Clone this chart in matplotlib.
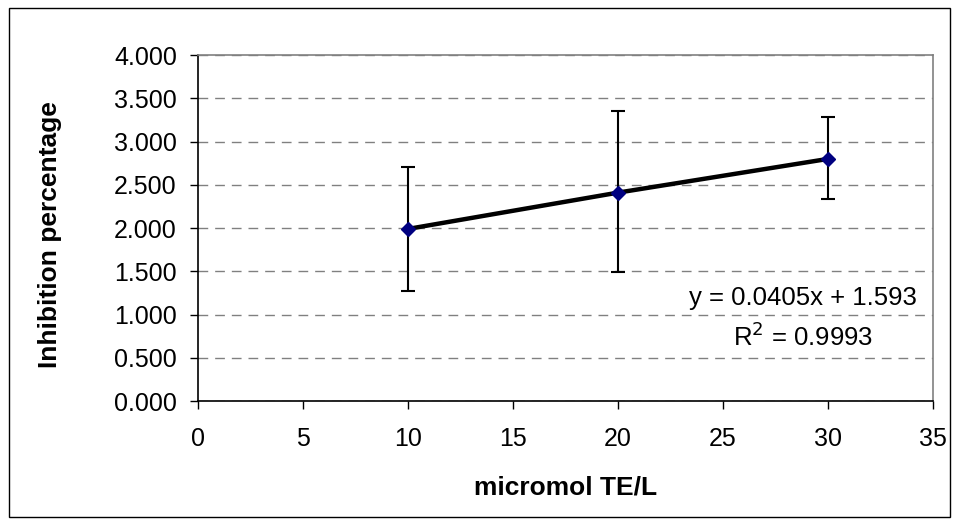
import matplotlib
matplotlib.use('Agg')
import matplotlib.pyplot as plt
from matplotlib.patches import Rectangle

plt.rcParams['font.family'] = ['Liberation Sans', 'DejaVu Sans']

concentration = [10, 20, 30]
inhibition = [1.99, 2.41, 2.80]
err_low = [1.275, 1.49, 2.34]
err_high = [2.71, 3.35, 3.29]

lower = [v - lo for v, lo in zip(inhibition, err_low)]
upper = [hi - v for v, hi in zip(inhibition, err_high)]

fig = plt.figure(figsize=(9.58, 5.25), dpi=100)
ax = fig.add_axes([0.2063, 0.236, 0.7676, 0.659])

ax.errorbar(concentration, inhibition, yerr=[lower, upper], fmt='none',
            ecolor='black', elinewidth=1.5, capsize=5, capthick=1.5, zorder=3)
ax.plot(concentration, inhibition, color='black', linewidth=3.2, zorder=4)
ax.plot(concentration, inhibition, linestyle='none', marker='D', markersize=7,
        color='#000080', zorder=5)

ax.set_xlim(0, 35)
ax.set_ylim(0, 4)
ax.set_xticks(range(0, 36, 5))
ax.set_yticks([i * 0.5 for i in range(9)])
ax.set_yticklabels(['%.3f' % (i * 0.5) for i in range(9)])
ax.tick_params(direction='out', length=6, width=1, labelsize=18, colors='black')
ax.tick_params(axis='y', pad=9)
ax.tick_params(axis='x', pad=13)

ax.yaxis.grid(True, linestyle=(0, (7, 5)), color='#808080', linewidth=1)
ax.set_axisbelow(True)

for side in ['left', 'bottom']:
    ax.spines[side].set_color('black')
    ax.spines[side].set_linewidth(1.2)
for side in ['top', 'right']:
    ax.spines[side].set_color('#808080')
    ax.spines[side].set_linewidth(1.2)

ax.set_xlabel('micromol TE/L', fontsize=19, fontweight='bold', labelpad=17)
ax.set_ylabel('Inhibition percentage', fontsize=19, fontweight='bold')
ax.yaxis.set_label_coords(-0.185, 0.48)

ax.text(0.823, 0.298, 'y = 0.0405x + 1.593', transform=ax.transAxes,
        fontsize=18.5, ha='center', va='center')
ax.text(0.823, 0.185, r'R$^2$ = 0.9993', transform=ax.transAxes,
        fontsize=18.5, ha='center', va='center')

fig.patches.append(Rectangle((9 / 958, 1 - 517 / 525), 941 / 958, 509 / 525,
                             transform=fig.transFigure, fill=False,
                             edgecolor='black', linewidth=1))

fig.savefig('out.png', dpi=100)
